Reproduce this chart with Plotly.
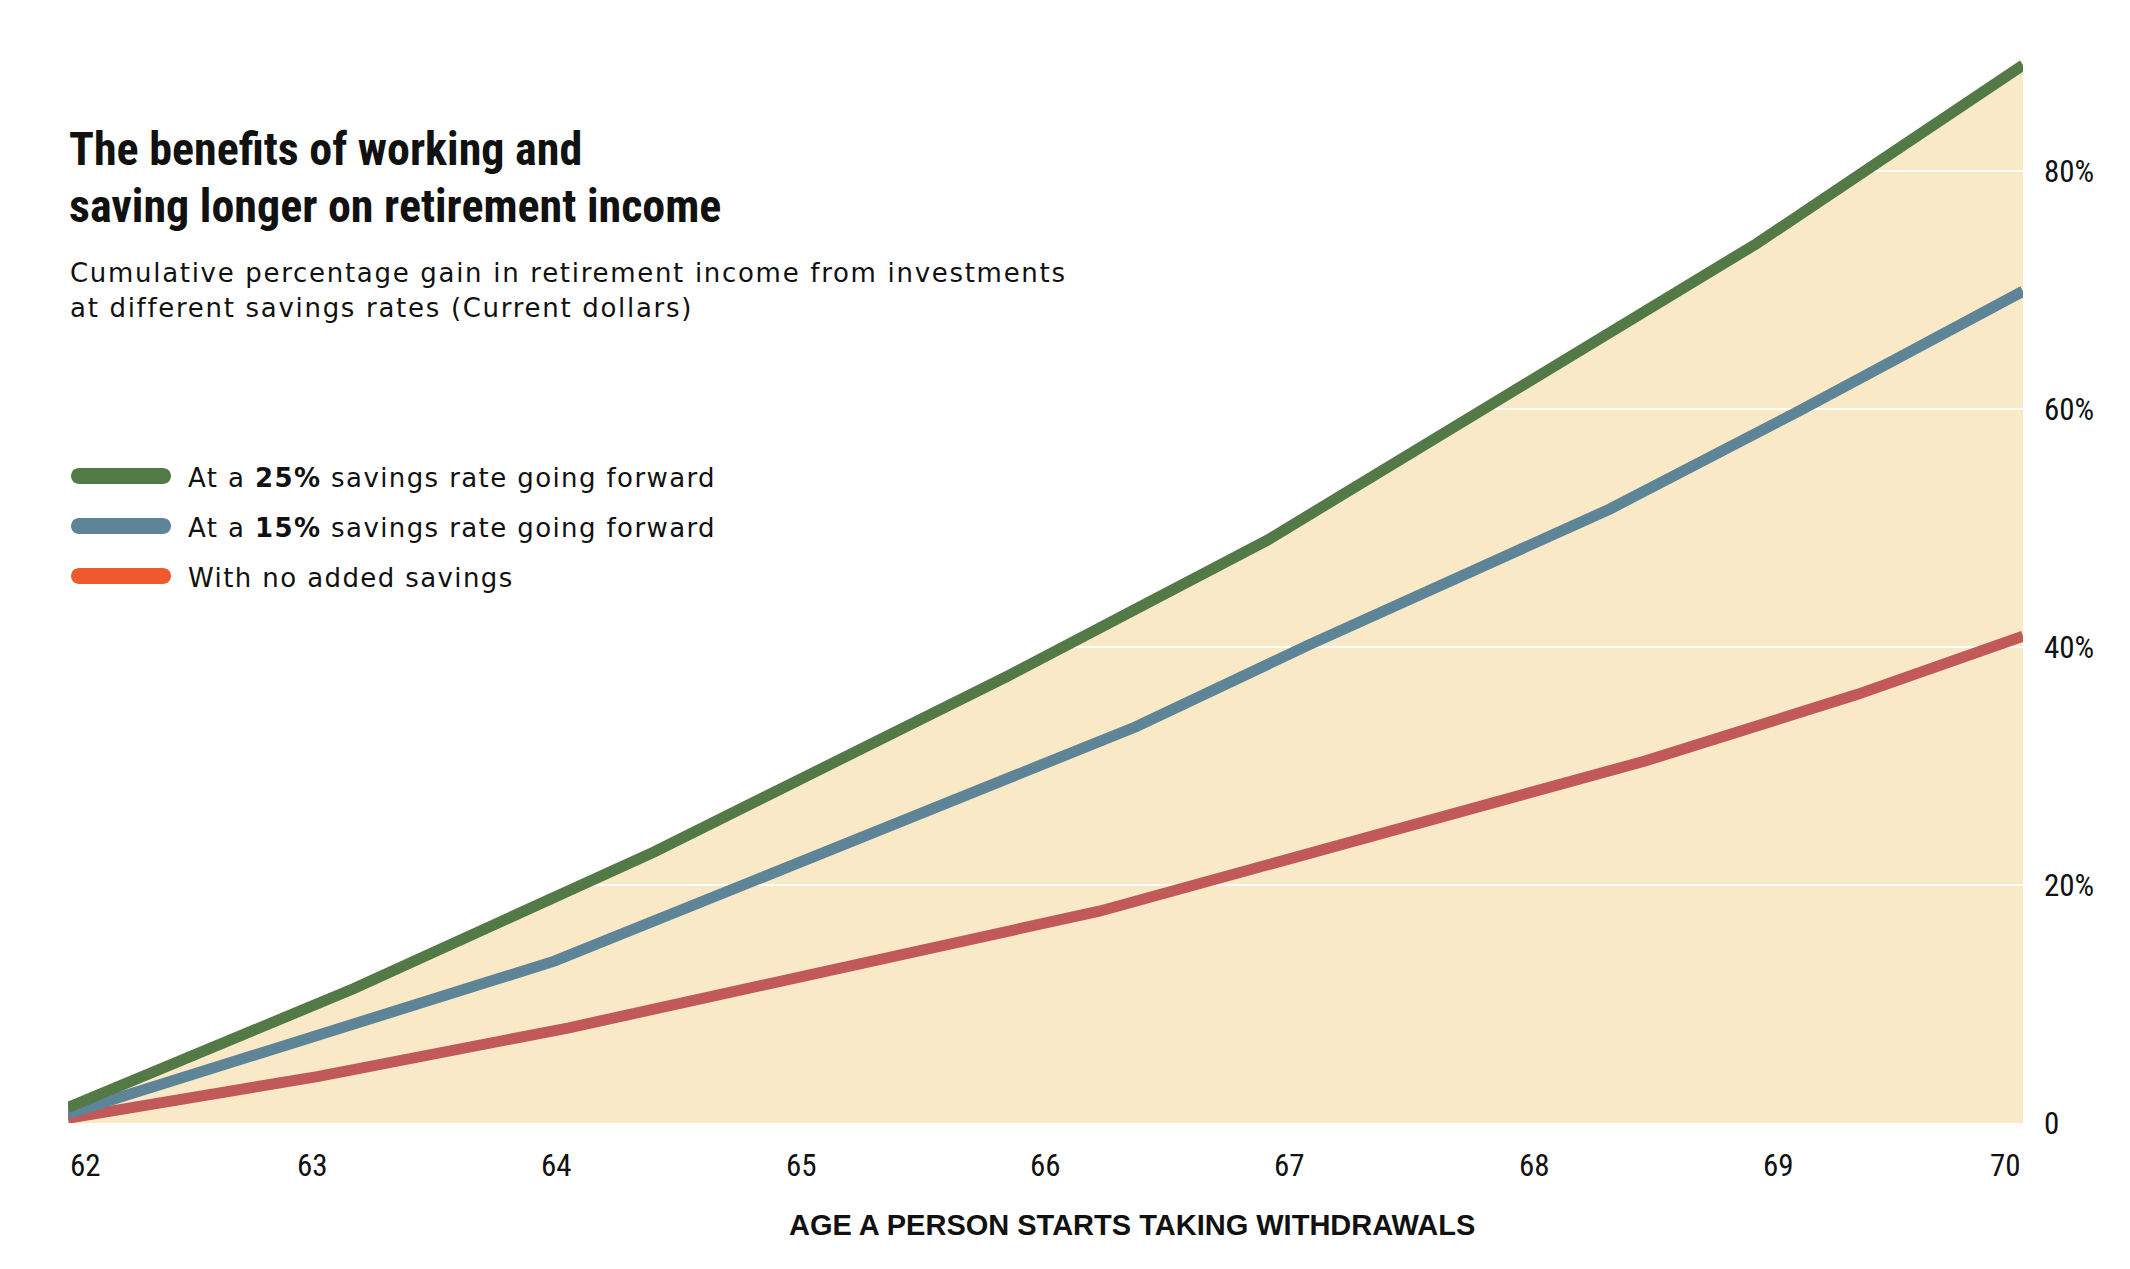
import plotly.graph_objects as go

# ---------------- data ----------------
tick_ages = [62, 63, 64, 65, 66, 67, 68, 69, 70]
tick_labels = ["62", "63", "64", "65", "66", "67", "68", "69", "70"]
y_tickvals = [0, 20, 40, 60, 80]
y_ticktext = ["0", "20%", "40%", "60%", "80%"]

age_25 = [62, 63.17, 64.40, 65.84, 66.91, 68.91, 69.36, 70]
gain_25 = [1.3, 11.3, 22.8, 37.5, 49.0, 73.9, 80.1, 88.9]

age_15 = [62, 63.99, 66.37, 67.08, 68.31, 69.09, 70]
gain_15 = [0.8, 13.6, 33.3, 40.2, 51.6, 59.9, 69.9]

age_0 = [62, 63.02, 64.05, 66.22, 68.45, 69.32, 70]
gain_0 = [0.4, 3.9, 8.0, 17.8, 30.4, 36.0, 40.9]

series_names = [
    "At a <b>25%</b> savings rate going forward",
    "At a <b>15%</b> savings rate going forward",
    "With no added savings",
]
line_colors = ["#537a46", "#5e8497", "#c15959"]
legend_colors = ["#537a46", "#5e8497", "#ef5a2c"]
fill_color = "#f9e9c6"

title_lines = ["The benefits of working and", "saving longer on retirement income"]
subtitle_lines = [
    "Cumulative percentage gain in retirement income from investments",
    "at different savings rates (Current dollars)",
]
x_title = "AGE A PERSON STARTS TAKING WITHDRAWALS"

# ---------------- figure ----------------
W, H = 2130, 1269
OFF = 8  # page body margin of the html page
# plot area on the page: left 68, right 2023, top 52, bottom 1123
ML = 68 - OFF
MT = 52 - OFF
MR = W - (2023 - OFF)
MB = H - (1123 - OFF)
plot_h = H - MT - MB
plot_w = W - ML - MR


def py(Y):  # page y (px) -> paper
    return (1123 - Y) / plot_h


def px(X):  # page x (px) -> paper
    return (X - 68) / plot_w


COND = "Roboto Condensed, DejaVu Sans Condensed, Liberation Sans Narrow, Roboto"

fig = go.Figure()

# fill under top series (subplot 1)
fig.add_trace(go.Scatter(
    x=age_25, y=gain_25, mode="lines", fill="tozeroy",
    fillcolor=fill_color, line=dict(width=0, color=fill_color),
    hoverinfo="skip", showlegend=False, xaxis="x", yaxis="y"))

# lines (subplot 2, drawn above subplot 1 and its own gridlines)
for a, g, nm, c in [(age_0, gain_0, series_names[2], line_colors[2]),
                    (age_15, gain_15, series_names[1], line_colors[1]),
                    (age_25, gain_25, series_names[0], line_colors[0])]:
    fig.add_trace(go.Scatter(x=a, y=g, mode="lines", name=nm,
                             line=dict(color=c, width=11),
                             showlegend=False, xaxis="x2", yaxis="y2"))

tick_font = dict(family=COND, size=31, color="#111111")

axis_common = dict(range=[62, 70], domain=[0, 1], fixedrange=True)
fig.update_layout(
    width=W, height=H,
    margin=dict(l=ML, r=MR, t=MT, b=MB),
    paper_bgcolor="white", plot_bgcolor="rgba(0,0,0,0)",
    showlegend=False,
    xaxis=dict(axis_common, visible=False, anchor="y"),
    yaxis=dict(range=[0, 90], domain=[0, 1], visible=False, anchor="x"),
    xaxis2=dict(axis_common, anchor="y2", showgrid=False, zeroline=False,
                showticklabels=False, showline=False, ticks=""),
    yaxis2=dict(range=[0, 90], domain=[0, 1], anchor="x2", side="right",
                showgrid=True, gridcolor="white", gridwidth=2,
                zeroline=False, showline=False, ticks="",
                tickvals=y_tickvals, ticktext=y_ticktext,
                ticklabelstandoff=20, tickfont=tick_font),
)

ann = []
# x tick labels
for i, (a, lab) in enumerate(zip(tick_ages, tick_labels)):
    anchor = "left" if i == 0 else ("right" if i == len(tick_ages) - 1 else "center")
    ann.append(dict(x=a, y=0, xref="x2", yref="paper", text=lab, showarrow=False,
                    xanchor=anchor, yanchor="middle", yshift=-42, font=tick_font))

# x axis title
ann.append(dict(x=px(1132), y=py(1225), xref="paper", yref="paper", text="<b>" + x_title + "</b>",
                showarrow=False, xanchor="center", yanchor="middle",
                font=dict(family="Liberation Sans", size=29, color="#111111")))

# title
for i, t in enumerate(title_lines):
    ann.append(dict(x=px(67), y=py([149, 206][i]), xref="paper", yref="paper",
                    text="<b>" + t + "</b>",
                    showarrow=False, xanchor="left", yanchor="middle",
                    font=dict(family=COND, size=46, color="#111111")))

# subtitle
for i, t in enumerate(subtitle_lines):
    ann.append(dict(x=px(68), y=py([273, 308][i]), xref="paper", yref="paper",
                    text='<span style="letter-spacing:1.7px">' + t + "</span>",
                    showarrow=False, xanchor="left", yanchor="middle",
                    font=dict(family="DejaVu Sans", size=26, color="#111111")))

# legend
shapes = []
pill = ("M 8,-8 L 92,-8 C 96.4,-8 100,-4.4 100,0 C 100,4.4 96.4,8 92,8 "
        "L 8,8 C 3.6,8 0,4.4 0,0 C 0,-4.4 3.6,-8 8,-8 Z")
for i, (nm, c) in enumerate(zip(series_names, legend_colors)):
    yc = [476, 526, 576][i]
    shapes.append(dict(type="path", xref="paper", yref="paper",
                       xsizemode="pixel", ysizemode="pixel",
                       xanchor=px(71), yanchor=py(yc), path=pill,
                       fillcolor=c, line=dict(width=0), layer="above"))
    ann.append(dict(x=px(186), y=py(yc + 2), xref="paper", yref="paper",
                    text='<span style="letter-spacing:1.4px">' + nm + "</span>",
                    showarrow=False, xanchor="left", yanchor="middle",
                    font=dict(family="DejaVu Sans", size=26, color="#111111")))

fig.update_layout(annotations=ann, shapes=shapes)
fig.write_html("out.html")
